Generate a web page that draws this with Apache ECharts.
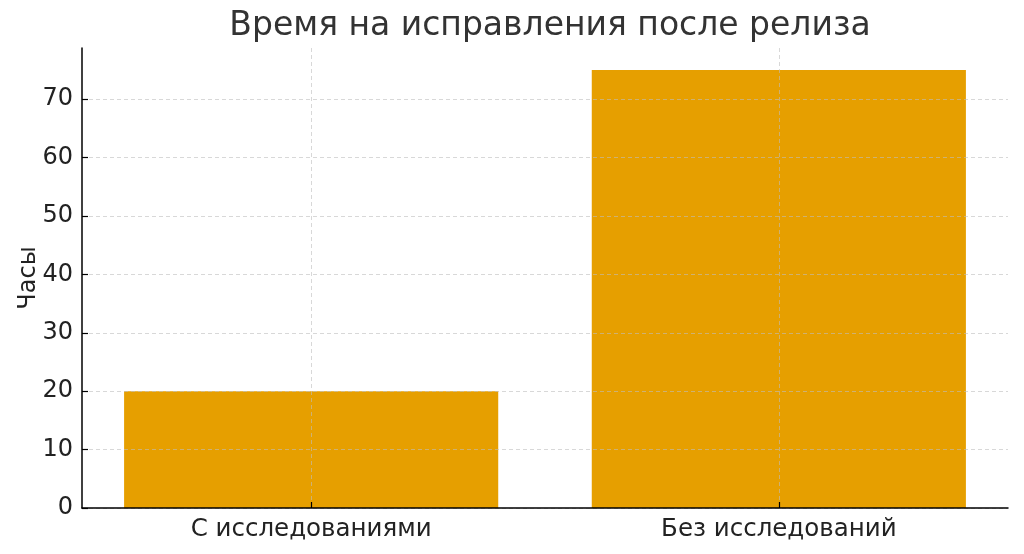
<!DOCTYPE html>
<html>
<head>
<meta charset="utf-8">
<script src="https://cdn.jsdelivr.net/npm/echarts@6/dist/echarts.min.js"></script>
<style>html,body{margin:0;padding:0;background:#fff}#c{width:1024px;height:554px}</style>
</head>
<body>
<div id="c"></div>
<script>
const categories = ['С исследованиями', 'Без исследований'];
const hours = [20, 75];
const yTicks = [0, 10, 20, 30, 40, 50, 60, 70];
const titleText = 'Время на исправления после релиза';
const yName = 'Часы';

const catIdx = categories.map((_, i) => i);
const barData = hours.map((v, i) => [i, v]);
const font = "'DejaVu Sans', sans-serif";

const chart = echarts.init(document.getElementById('c'), null, {renderer: 'canvas'});
chart.setOption({
  animation: false,
  backgroundColor: '#fff',
  title: {
    text: titleText, left: 545, textAlign: 'center', top: 5,
    textStyle: {fontFamily: font, fontSize: 33, fontWeight: 'normal', color: '#333'}
  },
  grid: {left: 82, right: 16, top: 48, bottom: 46, containLabel: false, outerBoundsMode: 'none'},
  xAxis: {
    type: 'value', min: -0.49, max: 1.49, z: 5,
    axisLine: {show: true, onZero: false, lineStyle: {color: '#000', width: 1.5}},
    axisTick: {show: true, inside: true, customValues: catIdx, length: 6, lineStyle: {color: '#000', width: 1.2}},
    axisLabel: {customValues: catIdx, formatter: v => categories[Math.round(v)], fontFamily: font, fontSize: 24.5, color: '#222', margin: 9},
    splitLine: {show: true, lineStyle: {type: [4, 3], color: 'rgba(190,190,190,0.6)', width: 1}}
  },
  yAxis: {
    type: 'value', min: 0, max: 78.75, z: 5,
    name: yName, nameLocation: 'middle', nameGap: 41, nameRotate: 90, nameMoveOverlap: false,
    nameTextStyle: {fontFamily: font, fontSize: 24, color: '#222'},
    axisLine: {show: true, onZero: false, lineStyle: {color: '#000', width: 1.5}},
    axisTick: {show: true, inside: true, customValues: yTicks, length: 6, lineStyle: {color: '#000', width: 1.2}},
    axisLabel: {customValues: yTicks, fontFamily: font, fontSize: 24, color: '#222', margin: 9},
    splitLine: {show: true, lineStyle: {type: [4, 3], color: 'rgba(190,190,190,0.6)', width: 1}}
  },
  series: [{
    type: 'bar', data: barData, barWidth: '80%',
    itemStyle: {color: '#E69F00'}
  }]
});
</script>
</body>
</html>
